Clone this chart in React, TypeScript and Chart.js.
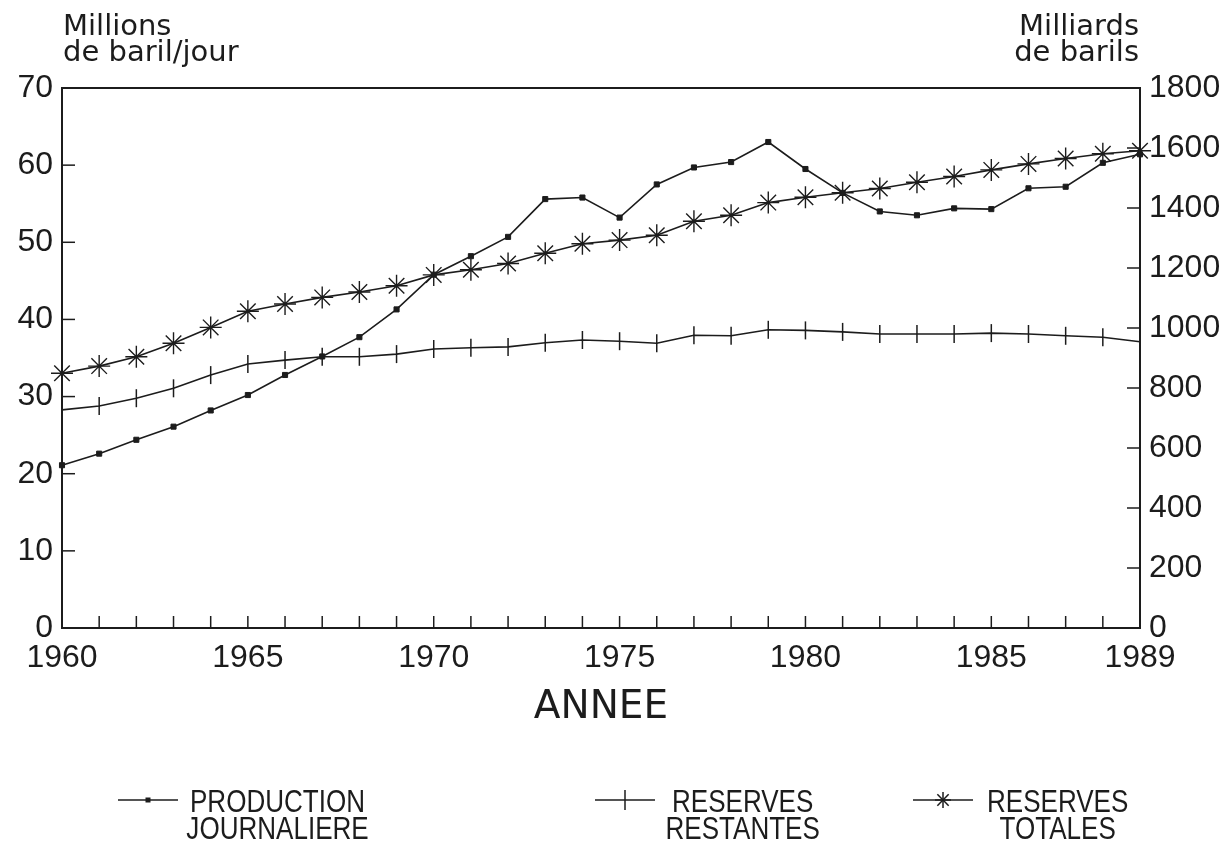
import React, { useEffect, useRef } from "react";
import { Chart, registerables } from "chart.js";

Chart.register(...registerables);

const years = [
  1960, 1961, 1962, 1963, 1964, 1965, 1966, 1967, 1968, 1969,
  1970, 1971, 1972, 1973, 1974, 1975, 1976, 1977, 1978, 1979,
  1980, 1981, 1982, 1983, 1984, 1985, 1986, 1987, 1988, 1989,
];

// Millions de baril/jour (left axis)
const production = [
  21.1, 22.6, 24.4, 26.1, 28.2, 30.2, 32.8, 35.2, 37.7, 41.3,
  45.8, 48.2, 50.7, 55.6, 55.8, 53.2, 57.5, 59.7, 60.4, 63.0,
  59.5, 56.4, 54.0, 53.5, 54.4, 54.3, 57.0, 57.2, 60.3, 61.4,
];

// Milliards de barils (right axis)
const reservesRestantes = [
  727, 740, 766, 799, 843, 880, 893, 904, 904, 913,
  930, 934, 937, 951, 960, 956, 949, 976, 974, 994,
  992, 987, 980, 980, 980, 983, 980, 974, 969, 954,
];

const reservesTotales = [
  849, 873, 904, 949, 1002, 1056, 1080, 1102, 1120, 1141,
  1177, 1194, 1215, 1249, 1281, 1293, 1309, 1356, 1376, 1418,
  1436, 1451, 1465, 1486, 1505, 1527, 1547, 1565, 1581, 1591,
];

const labeledYears = [1960, 1965, 1970, 1975, 1980, 1985, 1989];

const leftTitle = ["Millions", "de baril/jour"];
const rightTitle = ["Milliards", "de barils"];
const xTitle = "ANNEE";

const legendItems = [
  { lines: ["PRODUCTION", "JOURNALIERE"], marker: "rect" },
  { lines: ["RESERVES", "RESTANTES"], marker: "line" },
  { lines: ["RESERVES", "TOTALES"], marker: "star" },
];

const INK = "#1c1c1c";

const decorPlugin = {
  id: "decor",
  afterDraw(chart: any) {
    const { ctx, chartArea: a, scales } = chart;
    ctx.save();
    ctx.strokeStyle = INK;
    ctx.fillStyle = INK;
    // frame
    ctx.lineWidth = 2;
    ctx.strokeRect(a.left, a.top, a.right - a.left, a.bottom - a.top);
    // inward ticks
    ctx.lineWidth = 1.5;
    const seg = (x1: number, y1: number, x2: number, y2: number) => {
      ctx.beginPath();
      ctx.moveTo(x1, y1);
      ctx.lineTo(x2, y2);
      ctx.stroke();
    };
    years.forEach((_, i) => {
      const px = scales.x.getPixelForValue(i);
      seg(px, a.bottom, px, a.bottom - 12);
    });
    scales.y.ticks.forEach((t: any) => {
      const py = scales.y.getPixelForValue(t.value);
      seg(a.left, py, a.left + 13, py);
    });
    scales.y1.ticks.forEach((t: any) => {
      const py = scales.y1.getPixelForValue(t.value);
      seg(a.right - 13, py, a.right, py);
    });

    // axis titles
    ctx.font = '29px "DejaVu Sans"';
    ctx.textBaseline = "alphabetic";
    ctx.textAlign = "left";
    ctx.fillText(leftTitle[0], a.left + 1, 35);
    ctx.fillText(leftTitle[1], a.left + 1, 61);
    ctx.textAlign = "right";
    ctx.fillText(rightTitle[0], a.right - 1, 35);
    ctx.fillText(rightTitle[1], a.right - 1, 61);
    ctx.textAlign = "center";
    ctx.font = '39px "DejaVu Sans"';
    ctx.fillText(xTitle, (a.left + a.right) / 2, 718);

    // legend
    const sampleStarts = [118, 595, 913];
    const textStarts = [190, 672, 987];
    const sy = 800;
    legendItems.forEach((it, k) => {
      const x0 = sampleStarts[k];
      const x1 = x0 + 60;
      const cx = (x0 + x1) / 2;
      ctx.lineWidth = 1.5;
      seg(x0, sy, x1, sy);
      if (it.marker === "rect") {
        ctx.fillRect(cx - 2.5, sy - 2.5, 5, 5);
      } else if (it.marker === "line") {
        seg(cx, sy - 10, cx, sy + 10);
      } else {
        const r = 8;
        for (let d = 0; d < 4; d++) {
          const ang = (d * Math.PI) / 4;
          seg(cx - Math.sin(ang) * r, sy - Math.cos(ang) * r, cx + Math.sin(ang) * r, sy + Math.cos(ang) * r);
        }
      }
      ctx.save();
      ctx.font = '31px "Liberation Sans"';
      const sx = 0.84;
      ctx.scale(sx, 1);
      const w1 = ctx.measureText(it.lines[0]).width;
      const tx = textStarts[k] / sx;
      ctx.textAlign = "left";
      ctx.fillText(it.lines[0], tx, 812);
      ctx.textAlign = "center";
      ctx.fillText(it.lines[1], tx + w1 / 2, 839);
      ctx.restore();
    });
    ctx.restore();
  },
};

export default function App() {
  const ref = useRef<HTMLCanvasElement | null>(null);

  useEffect(() => {
    document.body.style.margin = "0";
    document.body.style.background = "#ffffff";
    const canvas = ref.current;
    if (!canvas) return;
    const tickFont = { family: '"Liberation Sans", Arial, sans-serif', size: 32 };
    const chart = new Chart(canvas, {
      type: "line",
      data: {
        labels: years.map(String),
        datasets: [
          {
            label: "PRODUCTION JOURNALIERE",
            data: production,
            yAxisID: "y",
            borderColor: INK,
            backgroundColor: INK,
            borderWidth: 1.6,
            pointStyle: "rect",
            pointRadius: 3.6,
            pointBorderWidth: 1,
            tension: 0,
            clip: false,
          },
          {
            label: "RESERVES RESTANTES",
            data: reservesRestantes,
            yAxisID: "y1",
            borderColor: INK,
            backgroundColor: INK,
            borderWidth: 1.6,
            pointStyle: "line",
            pointRotation: 90,
            pointRadius: 9,
            pointBorderWidth: 1.5,
            tension: 0,
            clip: false,
          },
          {
            label: "RESERVES TOTALES",
            data: reservesTotales,
            yAxisID: "y1",
            borderColor: INK,
            backgroundColor: INK,
            borderWidth: 1.6,
            pointStyle: "star",
            pointRadius: 11,
            pointBorderWidth: 1.4,
            tension: 0,
            clip: false,
          },
        ],
      },
      options: {
        animation: false,
        responsive: true,
        maintainAspectRatio: false,
        layout: { padding: { top: 88, left: 0, right: 0, bottom: 0 } },
        plugins: {
          legend: { display: false },
          tooltip: { enabled: false },
          title: { display: false },
        },
        scales: {
          x: {
            type: "category",
            offset: false,
            grid: { display: false, drawTicks: false },
            border: { display: false },
            afterFit: (s: any) => {
              s.height = 217;
            },
            ticks: {
              autoSkip: false,
              maxRotation: 0,
              minRotation: 0,
              padding: 11,
              color: INK,
              font: tickFont,
              callback: (_v: any, i: number) =>
                labeledYears.includes(years[i]) ? String(years[i]) : null,
            },
          },
          y: {
            type: "linear",
            position: "left",
            min: 0,
            max: 70,
            grid: { display: false, drawTicks: false },
            border: { display: false },
            afterFit: (s: any) => {
              s.width = 62;
            },
            ticks: {
              stepSize: 10,
              padding: 9,
              color: INK,
              font: tickFont,
              callback: (v: any) => String(v),
            },
          },
          y1: {
            type: "linear",
            position: "right",
            min: 0,
            max: 1800,
            grid: { display: false, drawTicks: false },
            border: { display: false },
            afterFit: (s: any) => {
              s.width = 87;
            },
            ticks: {
              stepSize: 200,
              padding: 9,
              color: INK,
              font: tickFont,
              callback: (v: any) => String(v),
            },
          },
        },
      },
      plugins: [decorPlugin],
    } as any);
    return () => chart.destroy();
  }, []);

  return (
    <div style={{ width: 1227, height: 845, position: "relative", background: "#fff" }}>
      <canvas ref={ref} />
    </div>
  );
}
